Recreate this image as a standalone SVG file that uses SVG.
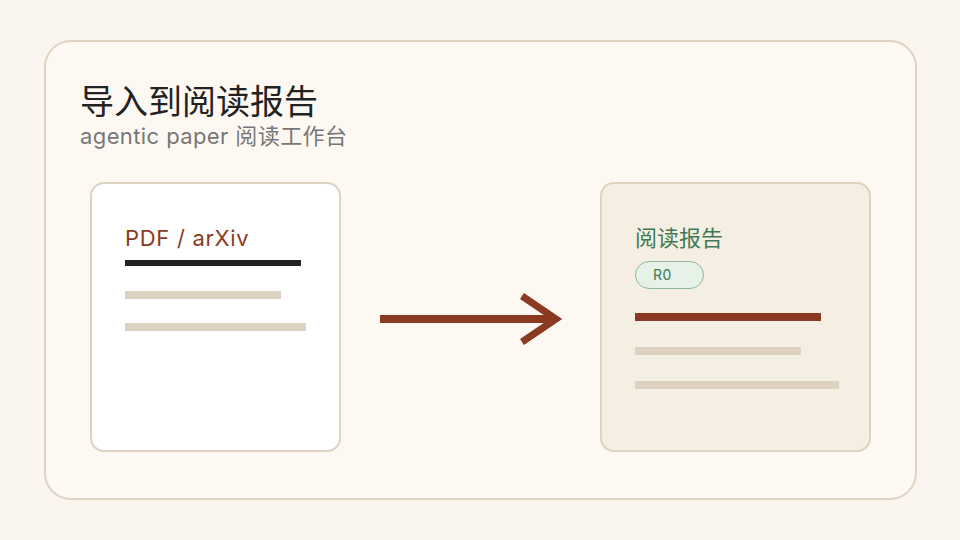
<svg xmlns="http://www.w3.org/2000/svg" width="960" height="540" viewBox="0 0 960 540">
<style>
.card{stroke:#ddd3c0;stroke-width:2}
.bar{fill:#ddd1bf}
.t{font-family:Inter,"Noto Sans CJK SC",sans-serif}
</style>
<rect x="0" y="0" width="960" height="540" fill="#faf6ef"/>
<g id="frame">
<rect x="45" y="41" width="871" height="458" rx="26" fill="#fdf9f2" class="card"/>
<text x="80" y="114" class="t" font-size="34" fill="#222">导入到阅读报告</text>
<text x="80" y="144" class="t" font-size="22" letter-spacing="0.4" fill="#777">agentic paper 阅读工作台</text>
</g>
<g id="source">
<rect x="91" y="183" width="249" height="268" rx="13" fill="#fff" class="card"/>
<text x="125" y="246" class="t" font-size="22" letter-spacing="0.7" fill="#8b3a22">PDF / arXiv</text>
<rect x="125" y="260" width="176" height="6" fill="#222"/>
<rect x="125" y="291" width="156" height="8" class="bar"/>
<rect x="125" y="323" width="181" height="8" class="bar"/>
</g>
<g id="report">
<rect x="601" y="183" width="269" height="268" rx="13" fill="#f5eee2" class="card"/>
<text x="635" y="246" class="t" font-size="22" fill="#3e7a55">阅读报告</text>
<rect x="635.5" y="261.5" width="68" height="27" rx="13.5" fill="#e6f1e8" stroke="#8fb89c" stroke-width="1"/>
<text x="653" y="280" class="t" font-size="14" letter-spacing="0.5" fill="#3e7a55">R0</text>
<rect x="635" y="313" width="186" height="8" fill="#8b3a22"/>
<rect x="635" y="347" width="166" height="8" class="bar"/>
<rect x="635" y="381" width="204" height="8" class="bar"/>
</g>
<g id="connectors">
<line x1="380" y1="319" x2="556" y2="319" stroke="#8b3a22" stroke-width="8"/>
<polyline points="522,296 556,319 522,342" fill="none" stroke="#8b3a22" stroke-width="7"/>
</g>
</svg>
